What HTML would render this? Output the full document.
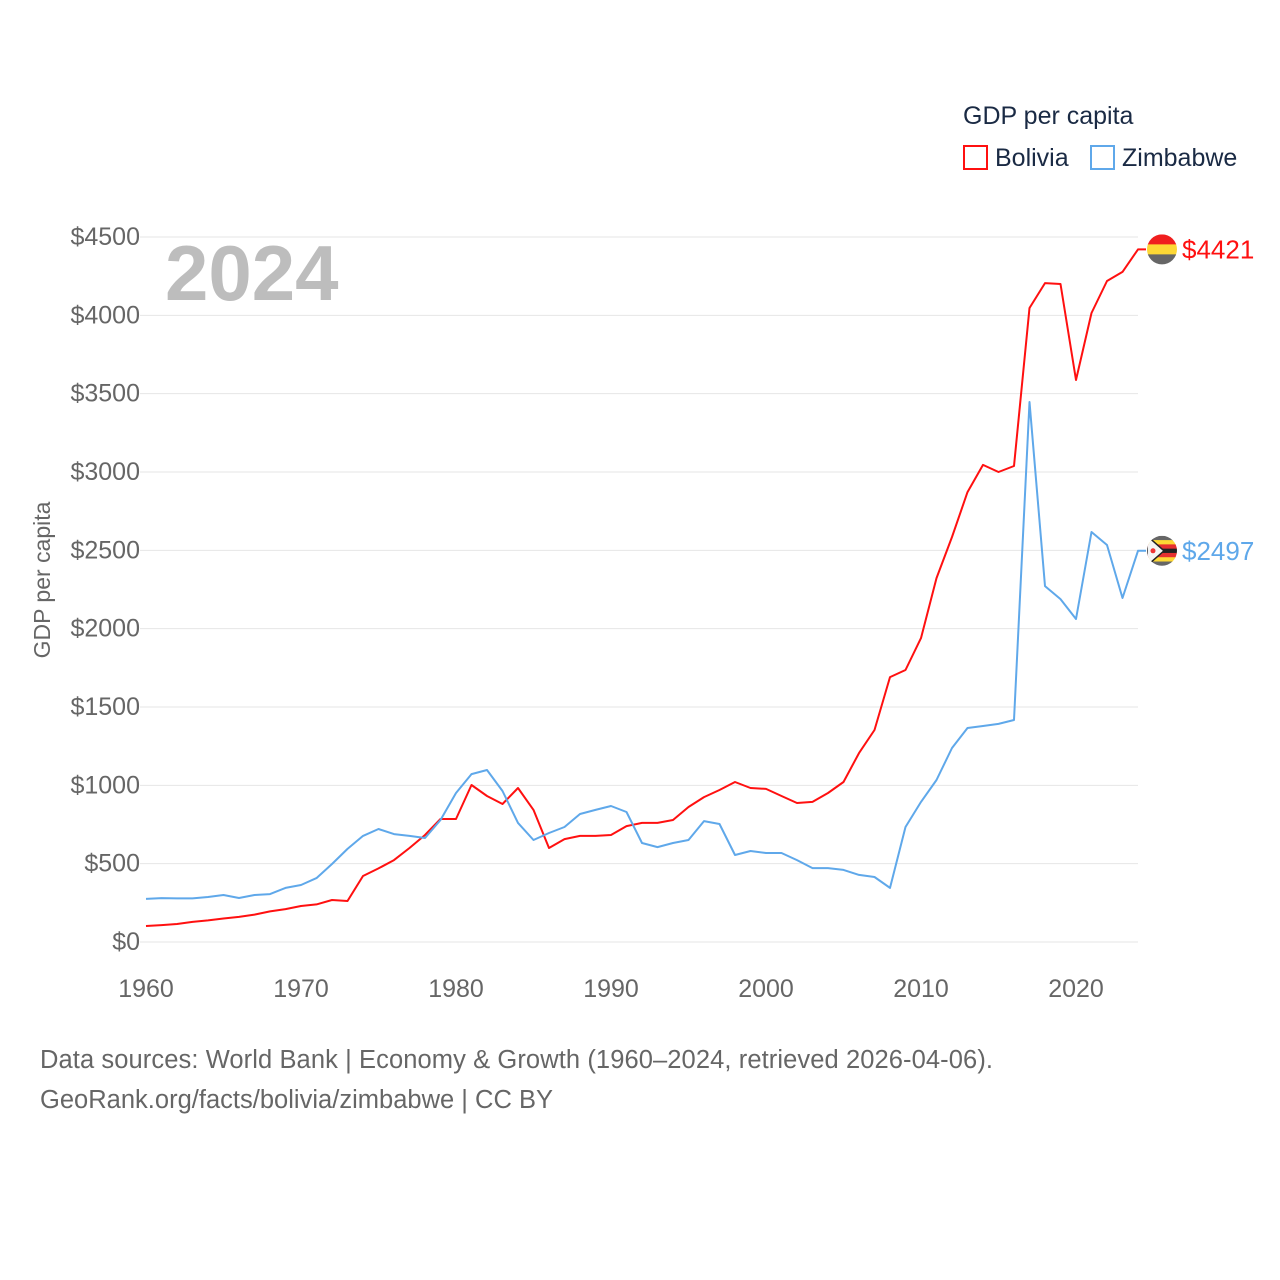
<!DOCTYPE html>
<html><head><meta charset="utf-8"><style>
body{margin:0;background:#fff;}
svg{display:block;font-family:"Liberation Sans",sans-serif;}
</style></head><body>
<svg id="chart" width="1280" height="1280" viewBox="0 0 1280 1280">
<text x="963" y="124" font-size="25" fill="#1a2a44">GDP per capita</text>
<g><rect x="964" y="146" width="23" height="23" fill="none" stroke="#ff1010" stroke-width="2"/><text x="995" y="166" font-size="25" fill="#1a2a44">Bolivia</text></g>
<g><rect x="1091" y="146" width="23" height="23" fill="none" stroke="#5fa8ea" stroke-width="2"/><text x="1122" y="166" font-size="25" fill="#1a2a44">Zimbabwe</text></g>
<text x="165" y="300" font-size="78" font-weight="bold" fill="#bdbdbd">2024</text>
<text transform="translate(50,580) rotate(-90)" text-anchor="middle" font-size="23" fill="#666">GDP per capita</text>
<g id="grid"></g><g id="lines"></g>
<text x="40" y="1068" font-size="25.5" fill="#666" textLength="953">Data sources: World Bank | Economy &amp; Growth (1960–2024, retrieved 2026-04-06).</text>
<text x="40" y="1108" font-size="25.5" fill="#666" textLength="513">GeoRank.org/facts/bolivia/zimbabwe | CC BY</text>
</svg>
<script>
const years=[];for(let y=1960;y<=2024;y++)years.push(y);
const bolivia=[102,108,115,128,138,150,160,175,195,210,230,240,268,262,421,470,523,600,683,785,785,1002,932,881,983,843,600,657,677,677,683,740,760,760,779,862,925,970,1021,983,977,932,887,894,951,1021,1206,1353,1691,1736,1940,2323,2585,2872,3045,3000,3038,4047,4206,4200,3587,4015,4219,4277,4421];
const zimbabwe=[275,280,278,278,287,300,281,300,306,345,364,408,498,594,677,721,689,677,664,779,951,1072,1098,964,760,651,696,734,817,843,868,830,632,606,632,651,772,753,555,581,568,568,523,472,472,460,428,415,345,734,894,1034,1238,1366,1379,1392,1417,3447,2272,2189,2062,2617,2534,2196,2497];
const yTicks=[0,500,1000,1500,2000,2500,3000,3500,4000,4500];
const xTicks=[1960,1970,1980,1990,2000,2010,2020];
const NS="http://www.w3.org/2000/svg";
const X=y=>146+(y-1960)*15.5, Y=v=>942-v*0.156667;
const grid=document.getElementById('grid'), lines=document.getElementById('lines');
function mk(tag,attrs,parent){const e=document.createElementNS(NS,tag);for(const k in attrs)e.setAttribute(k,attrs[k]);parent.appendChild(e);return e;}
yTicks.forEach(v=>{
 const l=mk('line',{x1:140,x2:1138,y1:Y(v),y2:Y(v),stroke:'#e6e6e6','stroke-width':1},grid);
 
 
 const t=mk('text',{x:140,y:Y(v)+8,'text-anchor':'end','font-size':25,fill:'#666'},grid);
 t.textContent='$'+v;
 
 
});
xTicks.forEach(v=>{
 const t=mk('text',{x:X(v),y:997,'text-anchor':'middle','font-size':25,fill:'#666'},grid);
 t.textContent=v;
 
 
});
function series(data,color,name,flag){
 let d=data.map((v,i)=>(i?'L':'M')+X(years[i]).toFixed(1)+','+Y(v).toFixed(1)).join(' ');
 const last=data[data.length-1];
 d+=' L'+(X(2024)+8)+','+Y(last).toFixed(1);
 const p=mk('path',{d:d,fill:'none',stroke:color,'stroke-width':2,'stroke-linejoin':'round'},lines);
 
 
 const g=mk('g',{},lines);
 
 
 const cy=Y(last), cx=1162;
 const cp=mk('clipPath',{id:'c'+name},g);mk('circle',{cx:cx,cy:cy,r:15},cp);
 const fg=mk('g',{'clip-path':'url(#c'+name+')'},g);
 flag.forEach((c,i)=>mk('rect',{x:cx-15,y:cy-15+i*30/flag.length,width:30,height:30/flag.length+0.5,fill:c},fg));
 if(name==='zimbabwe'){mk('path',{d:`M${cx-15},${cy-15} L${cx+2},${cy} L${cx-15},${cy+15}Z`,fill:'#f4f4f4',stroke:'#222','stroke-width':1.5},fg);mk('circle',{cx:cx-9,cy:cy,r:2.5,fill:'#e33'},fg);}
 const t=mk('text',{x:1182,y:cy+9,'font-size':26,fill:color},lines);
 t.textContent='$'+last;
 
 
}
series(bolivia,'#ff1010','bolivia',['#f01e1e','#fdd835','#666']);
series(zimbabwe,'#5fa8ea','zimbabwe',['#666','#fdd835','#e53030','#222','#e53030','#fdd835','#666']);
</script>
</body></html>
